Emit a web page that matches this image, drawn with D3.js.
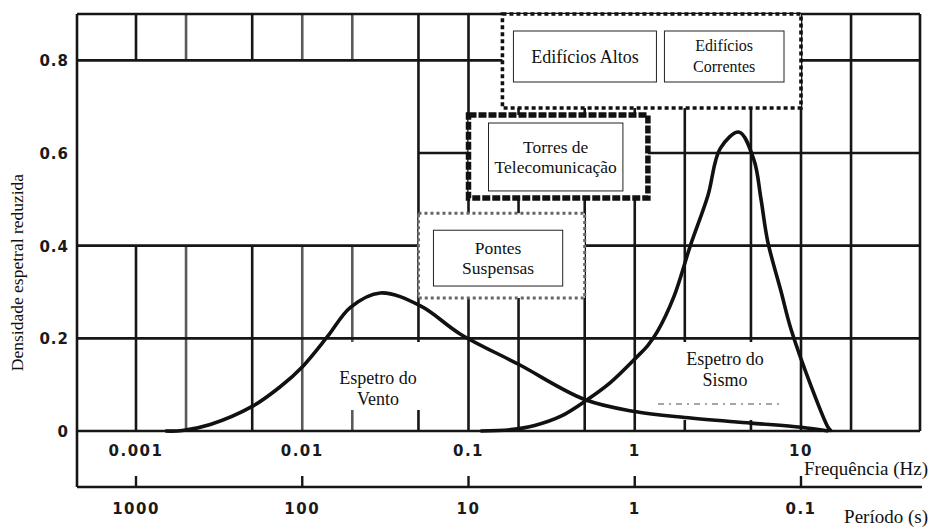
<!DOCTYPE html>
<html>
<head>
<meta charset="utf-8">
<script src="https://cdn.jsdelivr.net/npm/d3@7"></script>
<style>
  html, body { margin: 0; padding: 0; background: #fff; }
  svg { display: block; }
</style>
</head>
<body>
<svg id="chart" width="930" height="527"></svg>
<script>
// ---------------- data ----------------
const freqTicks = [0.001, 0.01, 0.1, 1, 10];
const freqTickLabels = ["0.001", "0.01", "0.1", "1", "10"];
const periodTicks = [1000, 100, 10, 1, 0.1];
const periodTickLabels = ["1000", "100", "10", "1", "0.1"];
const yTicks = [0, 0.2, 0.4, 0.6, 0.8];
const yTickLabels = ["0", "0.2", "0.4", "0.6", "0.8"];
const gridFreqs = [0.001, 0.002, 0.005, 0.01, 0.02, 0.05, 0.1, 0.2, 0.5, 1, 2, 5, 10, 20];
const gridValues = [0.2, 0.4, 0.6, 0.8];

// Espetro do Vento (frequency Hz, reduced spectral density)
const windFreq  = [0.0015, 0.0019, 0.0028, 0.005, 0.0074, 0.0101, 0.0142, 0.0195, 0.0295, 0.0514, 0.0895, 0.2, 0.5, 1, 2, 5, 10, 14.6];
const windValue = [0, 0.001, 0.014, 0.053, 0.096, 0.14, 0.204, 0.267, 0.298, 0.27, 0.209, 0.144, 0.068, 0.042, 0.029, 0.017, 0.008, 0];

// Espetro do Sismo
const quakeFreq  = [0.118, 0.18, 0.25, 0.36, 0.52, 0.716, 1.03, 1.2, 1.37, 1.72, 2.16, 2.75, 3.27, 4.25, 5.21, 5.75, 6.3, 7.6, 8.7, 11.5, 14.6, 15.2];
const quakeValue = [0, 0.003, 0.012, 0.032, 0.068, 0.105, 0.16, 0.185, 0.215, 0.29, 0.40, 0.507, 0.61, 0.645, 0.585, 0.50, 0.41, 0.30, 0.22, 0.097, 0.007, 0];

// Structure ranges (frequency start/end, density low/high)
const rangeNames     = ["Edifícios", "Torres de Telecomunicação", "Pontes Suspensas"];
const rangeFreqStart = [0.16, 0.1, 0.05];
const rangeFreqEnd   = [10, 1.2, 0.5];
const rangeValueLow  = [0.697, 0.503, 0.287];
const rangeValueHigh = [0.9, 0.682, 0.47];

// ---------------- layout ----------------
const svg = d3.select("#chart");
const xS = d3.scaleLog().domain([0.001, 10]).range([136, 801]);
const yS = d3.scaleLinear().domain([0, 0.9]).range([431, 14]);
const fLeft = 77, fRight = 920, fTop = yS(0.9), fBase = yS(0), periodY = 487;

const serif = "'Liberation Serif', 'Times New Roman', serif";
const bold = "'DejaVu Sans', sans-serif";
const ink = "#161616";

const gGrid = svg.append("g").attr("class", "grid");
const gBlank = svg.append("g").attr("class", "blank");
const gFrame = svg.append("g").attr("class", "frame");
const gBoxes = svg.append("g").attr("class", "boxes");
const gText = svg.append("g").attr("class", "texts");
const gCurves = svg.append("g").attr("class", "curves");
const gAxes = svg.append("g").attr("class", "axes");

// blank area in the upper-left of the scan (0.8 .. 0.4, left edge .. 0.05 Hz)
const blankXEnd = xS(0.05), blankYTop = yS(0.8), blankYBot = yS(0.4);

// grid: vertical lines (skip the blank area)
const faded = new Set([0.002, 0.01, 0.02]);
const vSegs = [];
gridFreqs.forEach(f => {
  const px = xS(f);
  if (px < blankXEnd - 3) {
    vSegs.push({ f, x: px, y1: fTop, y2: blankYTop });
    vSegs.push({ f, x: px, y1: blankYBot, y2: fBase });
  } else {
    vSegs.push({ f, x: px, y1: fTop, y2: fBase });
  }
});
gGrid.selectAll("line.v").data(vSegs).join("line").attr("class", "v")
  .attr("x1", d => d.x).attr("x2", d => d.x)
  .attr("y1", d => d.y1).attr("y2", d => d.y2)
  .attr("stroke", d => faded.has(d.f) ? "#5a5a5a" : ink)
  .attr("stroke-width", 2.6);
gGrid.selectAll("line.h").data(gridValues).join("line").attr("class", "h")
  .attr("x1", d => (yS(d) > blankYTop + 3 && yS(d) < blankYBot - 3) ? blankXEnd : fLeft)
  .attr("x2", fRight)
  .attr("y1", d => yS(d)).attr("y2", d => yS(d))
  .attr("stroke", ink).attr("stroke-width", 2.6);

// blank areas behind the spectrum labels
gBlank.append("rect").attr("x", 318).attr("y", 342).attr("width", 144).attr("height", 68).style("fill", "#ffffff");
gBlank.append("rect").attr("x", 642).attr("y", 342).attr("width", 155).attr("height", 78).style("fill", "#ffffff");
gBlank.append("line").attr("x1", 658).attr("x2", 783).attr("y1", 404).attr("y2", 404)
  .attr("stroke", "#888").attr("stroke-width", 1.6).attr("stroke-dasharray", "6,5,2,5");

// frame
gFrame.attr("fill", "none").attr("stroke", ink).attr("stroke-width", 2.6);
gFrame.append("line").attr("x1", fLeft).attr("x2", fRight).attr("y1", fTop).attr("y2", fTop);
gFrame.append("line").attr("x1", fRight).attr("x2", fRight).attr("y1", fTop).attr("y2", fBase);
gFrame.append("line").attr("x1", fLeft).attr("x2", fRight).attr("y1", fBase).attr("y2", fBase);
gFrame.append("line").attr("x1", fLeft).attr("x2", fLeft).attr("y1", fTop).attr("y2", periodY);
gFrame.append("line").attr("x1", fLeft).attr("x2", 922).attr("y1", periodY).attr("y2", periodY);

// range boxes
const rangeStyles = [
  { stroke: "#111", width: 3.6, dash: "4,3" },
  { stroke: "#111", width: 5.5, dash: "8,2" },
  { stroke: "#666", width: 3.0, dash: "3,3" }
];
rangeNames.forEach((name, i) => {
  const x0 = xS(rangeFreqStart[i]), x1 = xS(rangeFreqEnd[i]);
  const y0 = yS(rangeValueHigh[i]), y1 = yS(rangeValueLow[i]);
  const s = rangeStyles[i];
  gBoxes.append("rect").attr("x", x0).attr("y", y0).attr("width", x1 - x0).attr("height", y1 - y0)
    .style("fill", "#ffffff").attr("stroke", s.stroke).attr("stroke-width", s.width)
    .attr("stroke-dasharray", s.dash);
});

function labelBox(bx, by, bw, bh, lines, size, lineGap) {
  gBoxes.append("rect").attr("x", bx).attr("y", by).attr("width", bw).attr("height", bh)
    .style("fill", "#ffffff").attr("stroke", "#222").attr("stroke-width", 1);
  const cx = bx + bw / 2, cy = by + bh / 2;
  const t = gText.append("text").attr("font-family", serif).attr("font-size", size)
    .attr("fill", "#111").attr("text-anchor", "middle");
  lines.forEach((ln, k) => {
    t.append("tspan").attr("x", cx)
      .attr("y", cy + (k - (lines.length - 1) / 2) * lineGap + size * 0.34)
      .text(ln);
  });
}
// Edifícios
{
  const x0 = xS(rangeFreqStart[0]), x1 = xS(rangeFreqEnd[0]);
  const y0 = yS(rangeValueHigh[0]);
  labelBox(x0 + 11, y0 + 17, 143, 51, ["Edifícios Altos"], 18, 20);
  labelBox(x0 + 162, y0 + 17, x1 - x0 - 179, 51, ["Edifícios", "Correntes"], 16, 21);
}
// Torres
{
  const x0 = xS(rangeFreqStart[1]), x1 = xS(rangeFreqEnd[1]);
  const y0 = yS(rangeValueHigh[1]), y1 = yS(rangeValueLow[1]);
  labelBox(x0 + 20, y0 + 8, x1 - x0 - 45, y1 - y0 - 15, ["Torres de", "Telecomunicação"], 17.5, 20);
}
// Pontes
{
  const x0 = xS(rangeFreqStart[2]), x1 = xS(rangeFreqEnd[2]);
  const y0 = yS(rangeValueHigh[2]), y1 = yS(rangeValueLow[2]);
  labelBox(x0 + 15, y0 + 17, x1 - x0 - 37, y1 - y0 - 29, ["Pontes", "Suspensas"], 17.5, 20);
}

// spectra text
function plainText(cx, cy, lines, size, gap) {
  const t = gText.append("text").attr("font-family", serif).attr("font-size", size)
    .attr("fill", "#111").attr("text-anchor", "middle");
  lines.forEach((ln, k) => t.append("tspan").attr("x", cx)
    .attr("y", cy + (k - (lines.length - 1) / 2) * gap + size * 0.34).text(ln));
}
plainText(378, 388, ["Espetro do", "Vento"], 18, 21);
plainText(725, 369, ["Espetro do", "Sismo"], 18, 21);

// curves
const line = d3.line().x(d => xS(d[0])).y(d => yS(d[1])).curve(d3.curveCatmullRom.alpha(0.5));
gCurves.append("path").datum(d3.zip(windFreq, windValue)).attr("d", line)
  .attr("fill", "none").attr("stroke", "#111").attr("stroke-width", 3.6).attr("stroke-linejoin", "round");
gCurves.append("path").datum(d3.zip(quakeFreq, quakeValue)).attr("d", line)
  .attr("fill", "none").attr("stroke", "#111").attr("stroke-width", 3.6).attr("stroke-linejoin", "round");

// y tick labels
gAxes.selectAll("text.yt").data(yTicks).join("text").attr("class", "yt")
  .attr("x", 69).attr("y", d => yS(d) + 6)
  .attr("text-anchor", "end").attr("font-family", bold).attr("font-weight", "bold")
  .attr("font-size", 15).attr("letter-spacing", 1).attr("fill", "#1a1a1a")
  .text((d, i) => yTickLabels[i]);

// frequency tick labels
gAxes.selectAll("text.ft").data(freqTicks).join("text").attr("class", "ft")
  .attr("x", d => xS(d)).attr("y", 456)
  .attr("text-anchor", "middle").attr("font-family", bold).attr("font-weight", "bold")
  .attr("font-size", 15).attr("letter-spacing", 1.5).attr("fill", "#1a1a1a")
  .text((d, i) => freqTickLabels[i]);

// period axis ticks and labels
gAxes.selectAll("line.pt").data(periodTicks).join("line").attr("class", "pt")
  .attr("x1", d => xS(1 / d)).attr("x2", d => xS(1 / d))
  .attr("y1", periodY - 11).attr("y2", periodY)
  .attr("stroke", ink).attr("stroke-width", 2.4);
gAxes.selectAll("text.pl").data(periodTicks).join("text").attr("class", "pl")
  .attr("x", d => xS(1 / d)).attr("y", 514)
  .attr("text-anchor", "middle").attr("font-family", bold).attr("font-weight", "bold")
  .attr("font-size", 15).attr("letter-spacing", 1.5).attr("fill", "#1a1a1a")
  .text((d, i) => periodTickLabels[i]);

// axis titles
gAxes.append("text").attr("x", 928).attr("y", 475).attr("text-anchor", "end")
  .attr("font-family", serif).attr("font-size", 19).attr("fill", "#111").text("Frequência (Hz)");
gAxes.append("text").attr("x", 928).attr("y", 523).attr("text-anchor", "end")
  .attr("font-family", serif).attr("font-size", 19).attr("fill", "#111").text("Período (s)");
gAxes.append("text").attr("transform", "translate(23,272.5) rotate(-90)")
  .attr("text-anchor", "middle").attr("font-family", serif).attr("font-size", 17.5)
  .attr("fill", "#111").text("Densidade espetral reduzida");
</script>
</body>
</html>
